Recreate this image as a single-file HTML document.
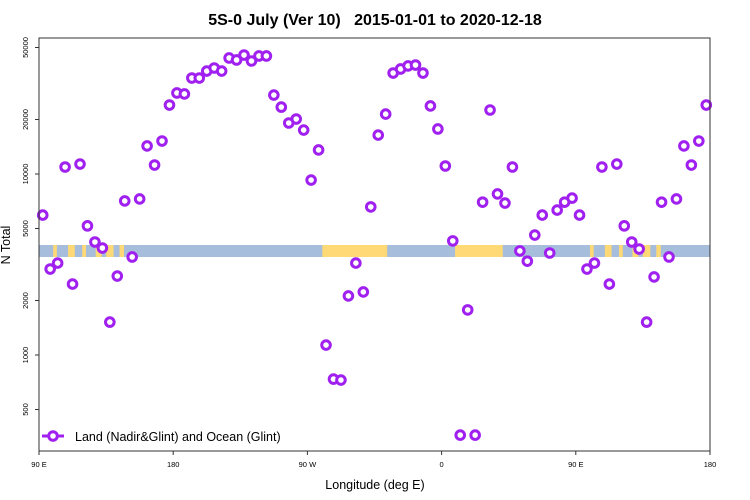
<!DOCTYPE html>
<html><head><meta charset="utf-8"><style>
body{margin:0;background:#fff;}
svg{display:block;font-family:"Liberation Sans",sans-serif;}
</style></head><body>
<svg id="chart" width="750" height="500">
<text x="375" y="25" text-anchor="middle" font-size="16" font-weight="bold" style="white-space:pre">5S-0 July (Ver 10)   2015-01-01 to 2020-12-18</text>
<text x="375" y="489" text-anchor="middle" font-size="12.5">Longitude (deg E)</text>
<text transform="translate(10,245) rotate(-90)" text-anchor="middle" font-size="12.5">N Total</text>
<g id="band"></g>
<g id="axes"></g>
<g id="series"></g>
<rect x="39" y="38" width="671" height="413" fill="none" stroke="#333" stroke-width="1"/>
<g>
<line x1="42" y1="436" x2="64" y2="436" stroke="#a020f0" stroke-width="3"/>
<circle cx="53" cy="436" r="4.3" fill="#fff" stroke="#a020f0" stroke-width="3"/>
<text x="75" y="441" font-size="12.5">Land (Nadir&amp;Glint) and Ocean (Glint)</text>
</g>
</svg>
<script>
const values = [5930,2985,3220,10930,2465,11350,5170,4210,3900,1520,2730,7100,3480,7280,14290,11210,15210,24050,28030,27690,33900,33900,37050,38520,37050,43760,42650,45430,42100,44880,44880,27300,23420,19130,20130,17490,9260,13580,1135,736,727,2120,3220,2230,6580,16410,21430,36130,38040,39540,40000,36130,23770,17730,11070,4270,361,1775,361,6990,22570,7760,6910,10930,3760,3300,4600,5930,3660,6320,6990,7360,5930,2985,3220,10930,2465,11350,5170,4210,3850,1520,2700,6990,3480,7280,14290,11210,15210,24050];
const lonStart = 92.5, lonStep = 5;
const xTickLons = [90,180,270,360,450,540];
const xTickLabels = ["90 E","180","90 W","0","90 E","180"];
const yTicks = [500,1000,2000,5000,10000,20000,50000];
const landSegs = [[99.5,102],[109.5,114],[119,121.5],[128,132],[135,140],[144,147],[280,323.5],[369,401],[459.5,462],[469.5,474],[479,481.5],[488,492],[495,500],[504,507]];
const NS="http://www.w3.org/2000/svg";
const X = l => 39 + (l-90)*671/450;
const Y = v => 174 - (Math.log10(v)-4)*181;
function mk(tag, attrs, parent){const e=document.createElementNS(NS,tag);for(const k in attrs)e.setAttribute(k,attrs[k]);parent.appendChild(e);return e;}
const band=document.getElementById('band'), axes=document.getElementById('axes'), ser=document.getElementById('series');
let r=mk('rect',{x:39,y:245,width:671,height:12,fill:'#a6bddb'},band);


landSegs.forEach(s=>{
  const e=mk('rect',{x:X(s[0]),y:245,width:X(s[1])-X(s[0]),height:12,fill:'#fed976'},band);
  
  
});
xTickLons.forEach((l,i)=>{
  const t=mk('line',{x1:X(l),x2:X(l),y1:451,y2:455,stroke:'#333'},axes);
  
  
  const tx=mk('text',{x:X(l),y:467,'text-anchor':'middle','font-size':'7.5'},axes);
  tx.textContent=xTickLabels[i];
  
  
});
yTicks.forEach(v=>{
  const y=Y(v);
  const t=mk('line',{x1:35,x2:39,y1:y,y2:y,stroke:'#333'},axes);
  
  
  const tx=mk('text',{transform:`translate(28,${y}) rotate(-90)`,'text-anchor':'middle','font-size':'7.5'},axes);
  tx.textContent=String(v);
  
  
});
values.forEach((v,i)=>{
  const c=mk('circle',{cx:X(lonStart+lonStep*i),cy:Y(v),r:4.3,fill:'#fff',stroke:'#a020f0','stroke-width':3},ser);
  
  
});
</script>
</body></html>
